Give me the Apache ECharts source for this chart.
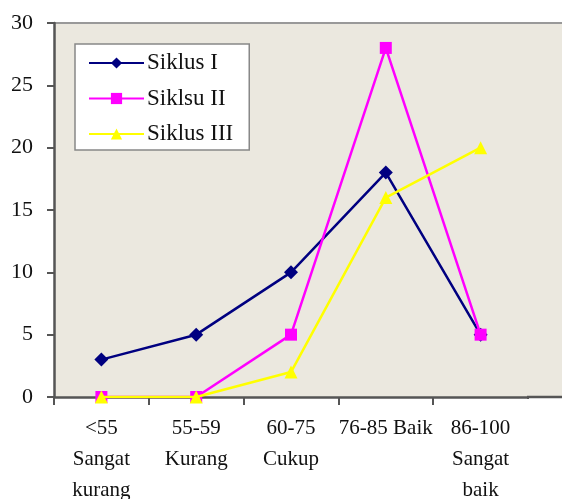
<!DOCTYPE html>
<html>
<head>
<meta charset="utf-8">
<script src="https://cdn.jsdelivr.net/npm/echarts@6/dist/echarts.min.js"></script>
<style>
  html, body { margin: 0; padding: 0; background: #fff; }
  #chart { width: 562px; height: 499px; }
</style>
</head>
<body>
<div id="chart"></div>
<script>
const categories = ["<55\nSangat\nkurang", "55-59\nKurang", "60-75\nCukup", "76-85 Baik", "86-100\nSangat\nbaik"];
const siklus1 = [3, 5, 10, 18, 5];
const siklus2 = [0, 0, 5, 28, 5];
const siklus3 = [0, 0, 2, 16, 20];
const yTicks = { min: 0, max: 30, interval: 5 };

const font = "'Liberation Serif', 'DejaVu Serif', serif";
const plotBg = "#ebe8df";

let chart = echarts.init(document.getElementById("chart"));

let option = {
  backgroundColor: "#fff",
  textStyle: { fontFamily: font },
  grid: {
    left: 54,
    right: 34,
    top: 23,
    bottom: 102,
    outerBoundsMode: "none",
    containLabel: false,
    show: true,
    backgroundColor: plotBg,
    borderWidth: 0
  },
  legend: {
    orient: "vertical",
    left: 75,
    top: 44,
    padding: [7, 16, 4, 13],
    itemWidth: 55,
    itemHeight: 14,
    itemGap: 11.5,
    backgroundColor: "#fff",
    borderColor: "#888",
    borderWidth: 1.5,
    textStyle: { fontFamily: font, fontSize: 23, lineHeight: 24, color: "#111", padding: [0, 0, 0, -2] },
    data: ["Siklus I", "Siklsu II", "Siklus III"]
  },
  xAxis: {
    type: "category",
    data: categories,
    boundaryGap: true,
    axisLine: { lineStyle: { color: "#555", width: 2.5 } },
    axisTick: { show: true, length: 8, lineStyle: { color: "#555", width: 2 } },
    axisLabel: {
      interval: 0,
      margin: 16,
      fontFamily: font,
      fontSize: 21,
      lineHeight: 31,
      color: "#111",
      align: "center"
    }
  },
  yAxis: {
    type: "value",
    min: yTicks.min,
    max: yTicks.max,
    interval: yTicks.interval,
    axisLine: { show: true, lineStyle: { color: "#555", width: 2.5 } },
    axisTick: { show: true, length: 7, lineStyle: { color: "#555", width: 2 } },
    splitLine: { show: false },
    axisLabel: { margin: 21, fontFamily: font, fontSize: 22, color: "#111" }
  },
  graphic: [
    { type: "rect", shape: { x: 528, y: 23, width: 40, height: 374 }, style: { fill: plotBg }, z: -1 },
    { type: "line", shape: { x1: 55, y1: 23, x2: 562, y2: 23 }, style: { stroke: "#999", lineWidth: 2 } },
    // hide the closing tick at the right end of the x axis
    { type: "rect", shape: { x: 524, y: 399, width: 10, height: 12 }, style: { fill: "#fff" }, z: 10 },
    { type: "line", shape: { x1: 527, y1: 397, x2: 562, y2: 397 }, style: { stroke: "#555", lineWidth: 2.5 }, z: 10 }
  ],
  series: [
    {
      name: "Siklus I",
      type: "line",
      data: siklus1,
      symbol: "diamond",
      symbolSize: 14,
      color: "#000080",
      lineStyle: { width: 2.5 },
      z: 3
    },
    {
      name: "Siklsu II",
      type: "line",
      data: siklus2,
      symbol: "rect",
      symbolSize: 12,
      color: "#ff00ff",
      lineStyle: { width: 2.5 },
      z: 4
    },
    {
      name: "Siklus III",
      type: "line",
      data: siklus3,
      symbol: "triangle",
      symbolSize: 13,
      color: "#ffff00",
      lineStyle: { width: 2.5 },
      z: 5
    }
  ]
};

chart.setOption(option);

window.addEventListener("resize", function() {
  chart.resize();
});
</script>
</body>
</html>
